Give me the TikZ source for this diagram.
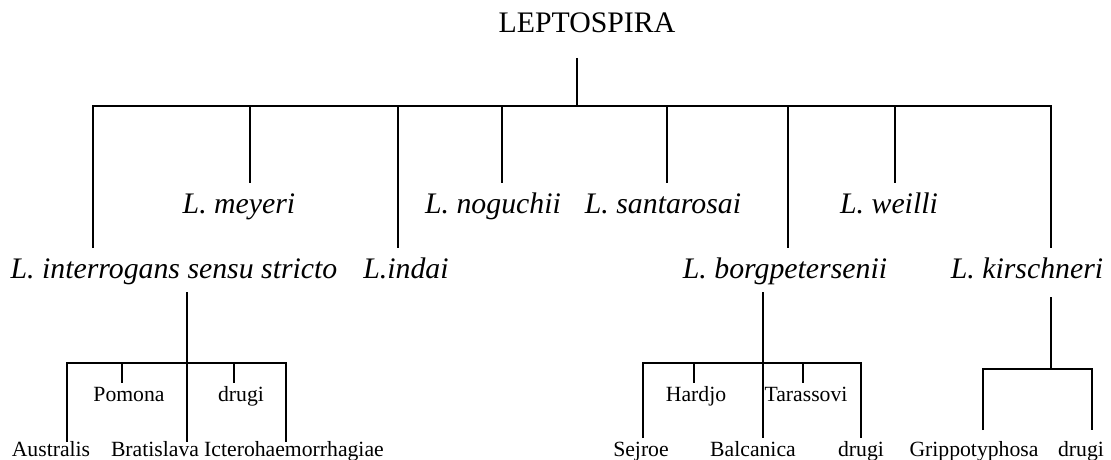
\documentclass[tikz,border=0pt]{standalone}
\usepackage{fontspec}
\setmainfont{Liberation Serif}
\begin{document}
\begin{tikzpicture}[x=1pt,y=-1pt,
  tline/.style={line width=1.9pt, line join=miter},
  toplbl/.style={font=\fontsize{29.8}{32}\selectfont, anchor=base, inner sep=0pt},
  sp/.style={font=\fontsize{29.8}{32}\selectfont\itshape, anchor=base, inner sep=0pt},
  sv/.style={font=\fontsize{21.7}{24}\selectfont, anchor=base, inner sep=0pt}]
\useasboundingbox (0,0) rectangle (1111,460);

% root
\node[toplbl] (lepto) at (587,33) {LEPTOSPIRA};
\coordinate (t0) at (577,58);
\coordinate (j0) at (577,106);
\draw[tline] (t0) -- (j0);

% species tick ends
\coordinate (e-int) at (93,248);
\coordinate (e-mey) at (250,183);
\coordinate (e-ind) at (398,248);
\coordinate (e-nog) at (502,183);
\coordinate (e-san) at (667,183);
\coordinate (e-bor) at (788,248);
\coordinate (e-wei) at (895,183);
\coordinate (e-kir) at (1051,248);

\draw[tline] (e-int) -- (e-int |- j0) -- (e-kir |- j0) -- (e-kir);
\foreach \c in {mey,ind,nog,san,bor,wei}
  \draw[tline] (e-\c |- j0) -- (e-\c);

% species labels
\node[sp] (int) at (174,278) {L. interrogans sensu stricto};
\node[sp] (mey) at (239,213) {L. meyeri};
\node[sp] (ind) at (406,278) {L.indai};
\node[sp] (nog) at (493,213) {L. noguchii};
\node[sp] (san) at (663,213) {L. santarosai};
\node[sp] (bor) at (785,278) {L. borgpetersenii};
\node[sp] (wei) at (889,213) {L. weilli};
\node[sp] (kir) at (1027,278) {L. kirschneri};

% interrogans subtree
\coordinate (ti) at (187,292);
\coordinate (ji) at (187,363);
\coordinate (a1) at (67,442);
\coordinate (a2) at (122,383);
\coordinate (a3) at (187,442);
\coordinate (a4) at (234,383);
\coordinate (a5) at (286,442);
\draw[tline] (ti) -- (ji);
\draw[tline] (a1) -- (a1 |- ji) -- (a5 |- ji) -- (a5);
\draw[tline] (a2 |- ji) -- (a2);
\draw[tline] (a3 |- ji) -- (a3);
\draw[tline] (a4 |- ji) -- (a4);
\node[sv] (aus) at (51,456) {Australis};
\node[sv] (pom) at (129,401) {Pomona};
\node[sv] (bra) at (155,456) {Bratislava};
\node[sv] (dr1) at (241,401) {drugi};
\node[sv] (ict) at (294,456) {Icterohaemorrhagiae};

% borgpetersenii subtree
\coordinate (tb) at (763,292);
\coordinate (jb) at (763,363);
\coordinate (b1) at (643,438);
\coordinate (b2) at (694,383);
\coordinate (b3) at (763,438);
\coordinate (b4) at (803,383);
\coordinate (b5) at (861,438);
\draw[tline] (tb) -- (jb);
\draw[tline] (b1) -- (b1 |- jb) -- (b5 |- jb) -- (b5);
\draw[tline] (b2 |- jb) -- (b2);
\draw[tline] (b3 |- jb) -- (b3);
\draw[tline] (b4 |- jb) -- (b4);
\node[sv] (sej) at (641,456) {Sejroe};
\node[sv] (har) at (696,401) {Hardjo};
\node[sv] (bal) at (753,456) {Balcanica};
\node[sv] (tar) at (806,401) {Tarassovi};
\node[sv] (dr2) at (861,456) {drugi};

% kirschneri subtree
\coordinate (tk) at (1051,297);
\coordinate (jk) at (1051,369);
\coordinate (k1) at (983,430);
\coordinate (k2) at (1092,430);
\draw[tline] (tk) -- (jk);
\draw[tline] (k1) -- (k1 |- jk) -- (k2 |- jk) -- (k2);
\node[sv] (gri) at (974,456) {Grippotyphosa};
\node[sv] (dr3) at (1081,456) {drugi};
\end{tikzpicture}
\end{document}
